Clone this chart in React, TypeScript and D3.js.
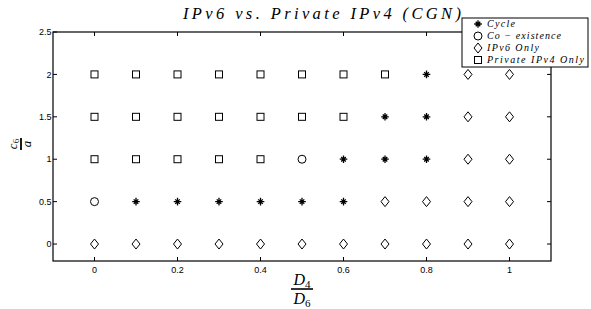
import { useEffect, useRef } from 'react';
import * as d3 from 'd3';

// share of the private IPv4 link (D4/D6) along x, cost ratio c6/a along y
const ratioD = [0, 0.1, 0.2, 0.3, 0.4, 0.5, 0.6, 0.7, 0.8, 0.9, 1];
const ratioC = [0, 0.5, 1, 1.5, 2];

// outcome per grid cell: C = cycle, O = co-existence, D = IPv6 only, S = private IPv4 only
const rowC0 = ['D', 'D', 'D', 'D', 'D', 'D', 'D', 'D', 'D', 'D', 'D'];
const rowC05 = ['O', 'C', 'C', 'C', 'C', 'C', 'C', 'D', 'D', 'D', 'D'];
const rowC1 = ['S', 'S', 'S', 'S', 'S', 'O', 'C', 'C', 'C', 'D', 'D'];
const rowC15 = ['S', 'S', 'S', 'S', 'S', 'S', 'S', 'C', 'C', 'D', 'D'];
const rowC2 = ['S', 'S', 'S', 'S', 'S', 'S', 'S', 'S', 'C', 'D', 'D'];
const outcomeRows = [rowC0, rowC05, rowC1, rowC15, rowC2];

const legendKeys = ['C', 'O', 'D', 'S'];
const legendLabels = ['Cycle', 'Co \u2212 existence', 'IPv6 Only', 'Private IPv4 Only'];
const legendWidths = [28, 74, 52, 97];

const xTicks = [0, 0.2, 0.4, 0.6, 0.8, 1];
const yTicks = [0, 0.5, 1, 1.5, 2, 2.5];

const W = 591;
const H = 309;
const SERIF = "'Liberation Serif', 'DejaVu Serif', serif";
const SANS = "'Liberation Sans', Arial, sans-serif";

function drawMarker(g: any, kind: string, cx: number, cy: number) {
    if (kind === 'S') {
        g.append('rect')
            .attr('x', cx - 3.5).attr('y', cy - 3.5)
            .attr('width', 7).attr('height', 7)
            .attr('fill', 'none').attr('stroke', '#000').attr('stroke-width', 1);
    } else if (kind === 'O') {
        g.append('circle')
            .attr('cx', cx).attr('cy', cy).attr('r', 4)
            .attr('fill', 'none').attr('stroke', '#000').attr('stroke-width', 1);
    } else if (kind === 'D') {
        const p = d3.path();
        p.moveTo(cx, cy - 5);
        p.lineTo(cx + 4, cy);
        p.lineTo(cx, cy + 5);
        p.lineTo(cx - 4, cy);
        p.closePath();
        g.append('path').attr('d', p.toString())
            .attr('fill', 'none').attr('stroke', '#000').attr('stroke-width', 1);
    } else {
        const p = d3.path();
        for (let k = 0; k < 4; k++) {
            const a = (k * Math.PI) / 4;
            const r = k % 2 === 0 ? 3.8 : 3.2;
            p.moveTo(cx - r * Math.cos(a), cy - r * Math.sin(a));
            p.lineTo(cx + r * Math.cos(a), cy + r * Math.sin(a));
        }
        g.append('path').attr('d', p.toString())
            .attr('fill', 'none').attr('stroke', '#000').attr('stroke-width', 1.3);
    }
}

export default function App() {
    const svgRef = useRef<SVGSVGElement>(null);

    useEffect(() => {
        if (!svgRef.current) return;
        const svg = d3.select(svgRef.current);
        svg.selectAll('*').remove();

        const left = 53, right = 551, top = 32, bottom = 261;
        const x = d3.scaleLinear().domain([-0.1, 1.1]).range([left, right]);
        const y = d3.scaleLinear().domain([-0.2, 2.5]).range([bottom, top]);

        svg.append('rect').attr('width', W).attr('height', H).attr('fill', '#fff');

        const g = svg.append('g');

        // markers
        outcomeRows.forEach((row, j) => {
            row.forEach((kind, i) => drawMarker(g, kind, x(ratioD[i]), y(ratioC[j])));
        });

        // inward ticks on all four sides, MATLAB style
        const tl = 4;
        xTicks.forEach(t => {
            g.append('line').attr('x1', x(t)).attr('x2', x(t)).attr('y1', bottom).attr('y2', bottom - tl)
                .attr('stroke', '#000').attr('stroke-width', 1);
            g.append('line').attr('x1', x(t)).attr('x2', x(t)).attr('y1', top).attr('y2', top + tl)
                .attr('stroke', '#000').attr('stroke-width', 1);
            g.append('text')
                .attr('x', x(t)).attr('y', bottom + 12)
                .attr('text-anchor', 'middle')
                .style('font-family', SANS).style('font-size', '9px')
                .text(d3.format('~g')(t));
        });
        yTicks.forEach(t => {
            g.append('line').attr('x1', left).attr('x2', left + tl).attr('y1', y(t)).attr('y2', y(t))
                .attr('stroke', '#000').attr('stroke-width', 1);
            g.append('line').attr('x1', right).attr('x2', right - tl).attr('y1', y(t)).attr('y2', y(t))
                .attr('stroke', '#000').attr('stroke-width', 1);
            g.append('text')
                .attr('x', left - 1.5).attr('y', y(t) + 3.2)
                .attr('text-anchor', 'end')
                .style('font-family', SANS).style('font-size', '9px')
                .text(d3.format('~g')(t));
        });

        // frame
        g.append('rect')
            .attr('x', left).attr('y', top)
            .attr('width', right - left).attr('height', bottom - top)
            .attr('fill', 'none').attr('stroke', '#000').attr('stroke-width', 1.2);

        // title
        svg.append('text')
            .attr('x', 322).attr('y', 19)
            .attr('text-anchor', 'middle')
            .attr('textLength', 278).attr('lengthAdjust', 'spacing')
            .style('font-family', SERIF).style('font-style', 'italic').style('font-size', '16.5px')
            .text('IPv6 vs. Private IPv4 (CGN)');

        // x label: D4 / D6
        const xl = svg.append('g').attr('transform', `translate(${(left + right) / 2},289)`);
        xl.append('line').attr('x1', -11).attr('x2', 11).attr('y1', 0).attr('y2', 0)
            .attr('stroke', '#000').attr('stroke-width', 1.6);
        const num = xl.append('text').attr('x', 0).attr('y', -4).attr('text-anchor', 'middle')
            .style('font-family', SERIF).style('font-size', '16px');
        num.append('tspan').style('font-style', 'italic').text('D');
        num.append('tspan').attr('dy', 3).style('font-size', '11px').text('4');
        const den = xl.append('text').attr('x', 0).attr('y', 15).attr('text-anchor', 'middle')
            .style('font-family', SERIF).style('font-size', '16px');
        den.append('tspan').style('font-style', 'italic').text('D');
        den.append('tspan').attr('dy', 3).style('font-size', '11px').text('6');

        // y label: c6 / a, rotated
        const yl = svg.append('g').attr('transform', 'translate(21,144) rotate(-90)');
        yl.append('line').attr('x1', -6).attr('x2', 6).attr('y1', 0).attr('y2', 0)
            .attr('stroke', '#000').attr('stroke-width', 1.8);
        const yn = yl.append('text').attr('x', 0).attr('y', -4).attr('text-anchor', 'middle')
            .style('font-family', SERIF).style('font-size', '13px');
        yn.append('tspan').style('font-style', 'italic').text('c');
        yn.append('tspan').attr('dy', 2).style('font-size', '9px').text('6');
        yl.append('text').attr('x', 0).attr('y', 10).attr('text-anchor', 'middle')
            .style('font-family', SERIF).style('font-style', 'italic').style('font-size', '13px')
            .text('a');

        // legend
        const lg = svg.append('g');
        lg.append('rect')
            .attr('x', 462).attr('y', 18).attr('width', 126).attr('height', 49)
            .attr('fill', '#fff').attr('stroke', '#000').attr('stroke-width', 1);
        legendKeys.forEach((k, i) => {
            const cy = 24 + i * 12;
            drawMarker(lg, k, 478, cy);
            lg.append('text')
                .attr('x', 487).attr('y', cy + 3)
                .attr('textLength', legendWidths[i]).attr('lengthAdjust', 'spacing')
                .style('font-family', SERIF).style('font-style', 'italic').style('font-size', '10px')
                .text(legendLabels[i]);
        });
    }, []);

    return (
        <div style={{ position: 'absolute', left: 0, top: 0 }}>
            <svg ref={svgRef} width={W} height={H} style={{ display: 'block' }} />
        </div>
    );
}
